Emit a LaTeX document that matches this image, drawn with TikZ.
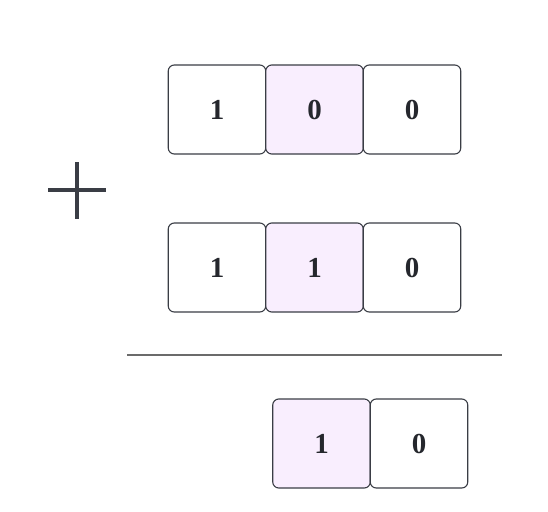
\documentclass[tikz,border=0pt]{standalone}
\usepackage{fontspec}
\setmainfont{Liberation Serif}
\usetikzlibrary{positioning}

\definecolor{edge}{HTML}{3A3D45}
\definecolor{inktext}{HTML}{25272D}
\definecolor{pinkfill}{HTML}{F9EEFE}
\definecolor{rulegray}{HTML}{6B6B6B}

\tikzset{
  digit/.style={draw=edge, line width=1.1pt, rounded corners=6pt, minimum width=97.5pt,
    minimum height=89pt, inner sep=0pt, outer sep=0pt, fill=white,
    font=\fontsize{29}{34}\selectfont\bfseries, text=inktext},
  carry/.style={digit, fill=pinkfill}
}

\begin{document}
\begin{tikzpicture}[x=1pt, y=-1pt]

\useasboundingbox (0,0) rectangle (548,511);

% first number
\node[digit] (a1) at (217,109.5) {1};
\node[carry, right=0pt of a1] (a2) {0};
\node[digit, right=0pt of a2] (a3) {0};

% second number
\node[digit] (b1) at (217,267.5) {1};
\node[carry, right=0pt of b1] (b2) {1};
\node[digit, right=0pt of b2] (b3) {0};

% plus sign
\draw[edge, line width=3.5pt] (48,190)--(106,190);
\draw[edge, line width=3.5pt] (77,162)--(77,219);

% rule
\draw[rulegray, line width=1.5pt] (127,355)--(502,355);

% result
\node[carry] (s1) at (321.5,443.5) {1};
\node[digit, right=0pt of s1] (s2) {0};

\end{tikzpicture}
\end{document}
